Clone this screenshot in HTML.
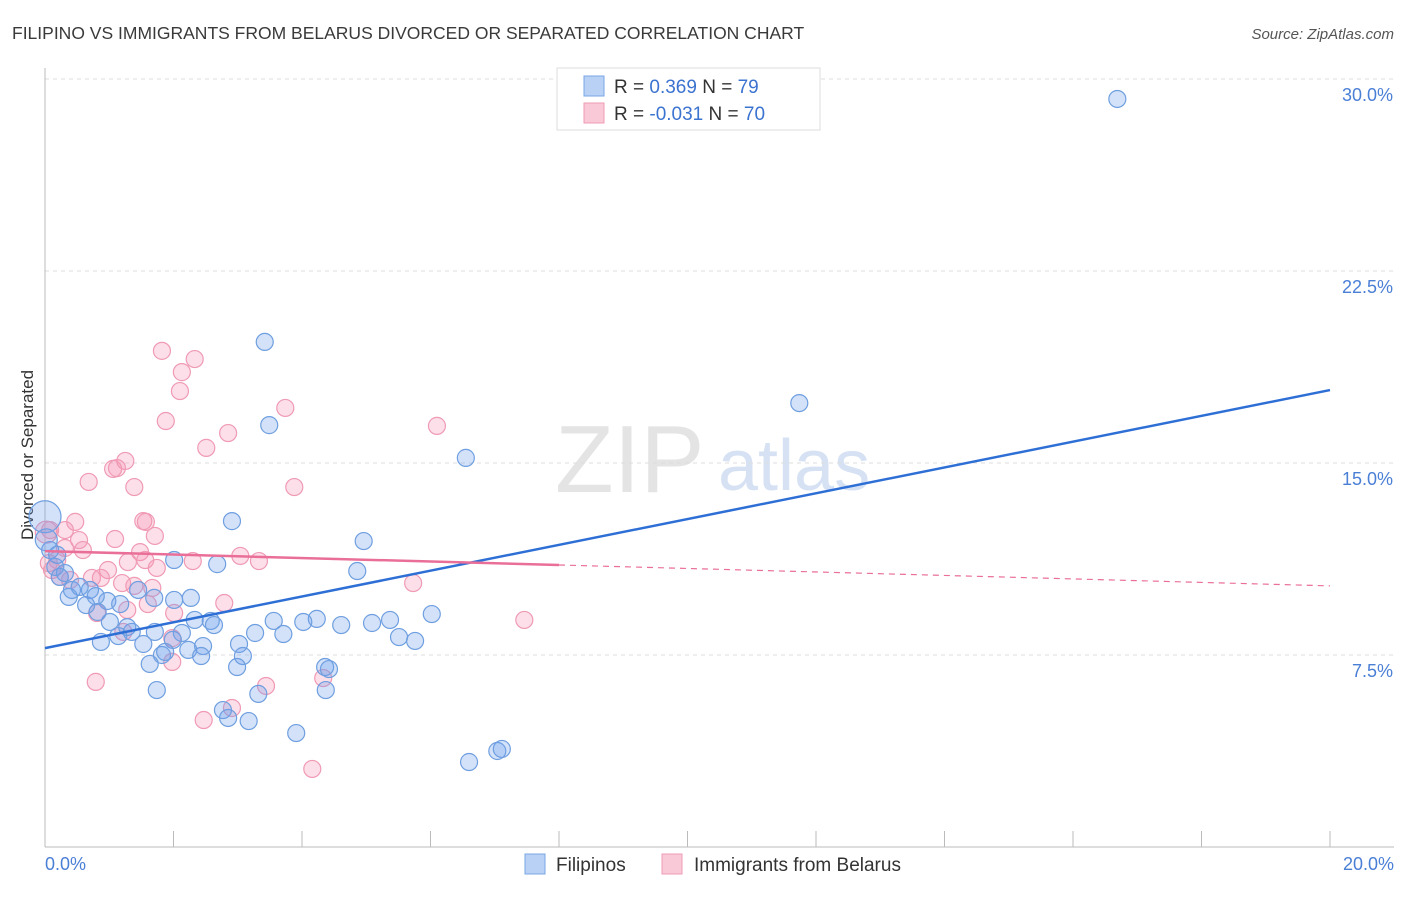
<!DOCTYPE html>
<html><head><meta charset="utf-8"><style>
body{margin:0;background:#fff;font-family:"Liberation Sans",sans-serif;}
svg text{font-family:"Liberation Sans",sans-serif;}
</style></head><body>
<svg id="chart" width="1406" height="892" xmlns="http://www.w3.org/2000/svg">
<text x="12" y="39" font-size="17.5" fill="#3a3a3a">FILIPINO VS IMMIGRANTS FROM BELARUS DIVORCED OR SEPARATED CORRELATION CHART</text>
<text x="1394" y="39" font-size="15" fill="#555" text-anchor="end" font-style="italic">Source: ZipAtlas.com</text>
<text transform="translate(33,455) rotate(-90)" font-size="17" fill="#333" text-anchor="middle">Divorced or Separated</text>
<text x="555" y="492" font-size="96" fill="#e4e4e4" font-family="Liberation Serif">ZIP</text>
<text x="718" y="490" font-size="72" fill="#d6e2f4">atlas</text>
<g id="grid"></g><g id="axes"></g><g id="pts"></g><g id="lines"></g>
<g>
<rect x="557" y="68" width="263" height="62" fill="#fff" stroke="#ddd"/>
<rect x="584" y="76" width="20" height="20" fill="#b9d1f4" stroke="#7aa6e6"/>
<text x="614" y="93" font-size="19" fill="#333">R = <tspan fill="#3b73d0"> 0.369</tspan>   N = <tspan fill="#3b73d0">79</tspan></text>
<rect x="584" y="103" width="20" height="20" fill="#f9c9d7" stroke="#ef9bb5"/>
<text x="614" y="120" font-size="19" fill="#333">R = <tspan fill="#3b73d0">-0.031</tspan>   N = <tspan fill="#3b73d0">70</tspan></text>
</g>
<g>
<rect x="525" y="854" width="20" height="20" fill="#b9d1f4" stroke="#7aa6e6"/>
<text x="556" y="871" font-size="19" fill="#333">Filipinos</text>
<rect x="662" y="854" width="20" height="20" fill="#f9c9d7" stroke="#ef9bb5"/>
<text x="694" y="871" font-size="19" fill="#333">Immigrants from Belarus</text>
</g>
</svg>
<script>
const blueX=[16.69,3.42,11.74,3.49,6.55,2.91,4.96,0,2.68,4.86,6.02,5.37,5.09,4.61,4.23,4.02,3.56,3.71,3.27,3.02,5.51,5.76,4.36,4.42,4.37,3.08,2.99,3.32,2.77,2.85,3.17,3.91,6.60,7.04,7.11,2.27,2.01,2.33,2.58,2.63,2.46,2.23,2.13,1.99,1.82,1.87,1.63,1.74,2.43,2.01,1.70,1.53,1.35,1.28,1.14,1.01,0.97,0.82,0.87,0.64,0.37,0.42,0.70,0.54,0.23,0.31,0.16,0.08,0.19,0.02,0.79,1.17,1.45,1.71];
const blueY=[29.22,19.73,17.34,16.48,15.20,12.73,11.95,12.9,11.05,10.78,9.10,8.87,8.75,8.67,8.91,8.79,8.83,8.32,8.36,7.93,8.20,8.05,7.03,6.95,6.13,7.46,7.03,5.98,5.35,5.04,4.92,4.45,3.32,3.75,3.83,9.73,9.65,8.87,8.83,8.67,7.85,7.70,8.36,8.09,7.50,7.62,7.15,6.13,7.46,11.21,9.73,7.93,8.40,8.59,8.24,8.79,9.61,9.18,8.01,9.45,9.77,10.04,10.04,10.16,10.55,10.70,10.94,11.6,11.41,12.0,9.80,9.49,10.04,8.40];
const pinkX=[1.82,2.33,2.13,2.10,3.74,1.88,6.10,2.85,2.51,1.25,1.06,1.12,0.68,3.88,1.39,1.53,1.57,0.47,0.31,1.71,1.09,0.53,0.08,0.59,1.48,3.04,3.33,2.30,1.56,1.29,1.74,0.98,0.73,0.87,0.23,0.39,1.20,1.39,1.67,5.73,0.19,2.79,1.60,1.28,2.01,0.81,7.46,1.98,1.22,1.98,4.33,0.79,3.44,2.91,2.47,4.16,0.31,0.06,0.11,0.02];
const pinkY=[19.38,19.06,18.55,17.81,17.15,16.64,16.45,16.17,15.59,15.08,14.77,14.80,14.26,14.06,14.06,12.73,12.70,12.70,12.38,12.15,12.03,11.99,12.38,11.60,11.52,11.37,11.17,11.17,11.21,11.13,10.90,10.82,10.51,10.51,10.55,10.43,10.31,10.20,10.12,10.31,11.21,9.53,9.49,9.26,9.14,9.14,8.87,8.16,8.40,7.23,6.60,6.45,6.29,5.43,4.96,3.05,11.68,11.09,10.82,12.3];
const blueTrend=[7.77,17.85];
const pinkTrend=[11.56,10.2];
const yTicks=[7.5,15,22.5,30];
const xTickLabels=["0.0%","20.0%"];
const NS="http://www.w3.org/2000/svg";
const X0=45,X1=1330,Y0=847,PY=25.6;
const sx=v=>X0+(X1-X0)*v/20, sy=v=>Y0-v*PY;
function mk(tag,attrs,parent){const e=document.createElementNS(NS,tag);for(const k in attrs)e.setAttribute(k,attrs[k]);document.getElementById(parent).appendChild(e);return e;}
yTicks.forEach(t=>{
 const l=mk('line',{x1:X0,x2:1394,y1:sy(t),y2:sy(t),stroke:'#ddd','stroke-dasharray':'4,4'},'grid');
 
 
 const tx=mk('text',{x:1393,y:sy(t)+22,'font-size':18,fill:'#4a7fd6','text-anchor':'end'},'grid');
 tx.textContent=t.toFixed(1)+'%';
 
 
});
let ax=mk('line',{x1:X0,x2:X0,y1:68,y2:Y0,stroke:'#bbb'},'axes');


ax=mk('line',{x1:X0,x2:1394,y1:Y0,y2:Y0,stroke:'#bbb'},'axes');


for(let i=0;i<=10;i++){
 const t=mk('line',{x1:sx(i*2),x2:sx(i*2),y1:Y0,y2:Y0-16,stroke:'#bbb'},'axes');
 
 
}
[[0,'start',45],[20,'end',1394]].forEach((d,i)=>{
 const tx=mk('text',{x:d[2],y:870,'font-size':18,fill:'#4a7fd6','text-anchor':d[1]},'axes');
 tx.textContent=xTickLabels[i];
 
 
});
function pts(xs,ys,fill,stroke,name){
 xs.forEach((x,i)=>{
  const r=(x<0.05&&ys[i]>12.5)?16:(x<0.05?11:8.5);
  const c=mk('circle',{cx:sx(x),cy:sy(ys[i]),r:r,fill:fill,stroke:stroke,'stroke-width':1.2},'pts');
  
  
 });
}
pts(pinkX,pinkY,'rgba(244,150,180,0.3)','#f09ab5','belarus-point');
pts(blueX,blueY,'rgba(110,160,235,0.3)','#6f9fe0','filipino-point');
let ln=mk('line',{x1:sx(0),y1:sy(blueTrend[0]),x2:sx(20),y2:sy(blueTrend[1]),stroke:'#2e6fd6','stroke-width':2.5},'lines');


const pm=v=>pinkTrend[0]+(pinkTrend[1]-pinkTrend[0])*v/20;
ln=mk('line',{x1:sx(0),y1:sy(pinkTrend[0]),x2:sx(8),y2:sy(pm(8)),stroke:'#ea6f98','stroke-width':2.5},'lines');


ln=mk('line',{x1:sx(8),y1:sy(pm(8)),x2:sx(20),y2:sy(pinkTrend[1]),stroke:'#ea6f98','stroke-width':1.2,'stroke-dasharray':'6,5'},'lines');


</script>
</body></html>
